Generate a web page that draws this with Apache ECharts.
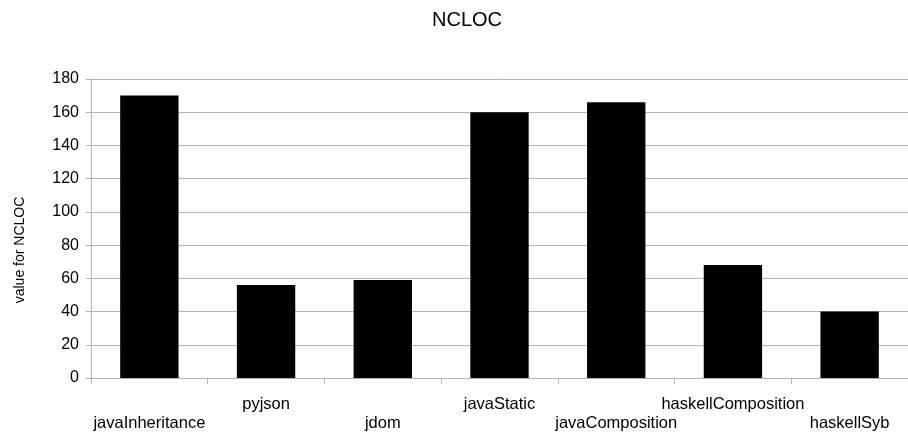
<!DOCTYPE html>
<html>
<head>
<meta charset="utf-8">
<script src="https://cdn.jsdelivr.net/npm/echarts@6/dist/echarts.min.js"></script>
<style>html,body{margin:0;padding:0;background:#fff}#c{width:908px;height:438px}</style>
</head>
<body>
<div id="c"></div>
<script>
var categories = ['javaInheritance', 'pyjson', 'jdom', 'javaStatic', 'javaComposition', 'haskellComposition', 'haskellSyb'];
var values = [170, 56, 59, 160, 166, 68, 40];
var yTicks = { min: 0, max: 180, interval: 20 };
var titleText = 'NCLOC';
var yAxisTitle = 'value for NCLOC';

var font = '"Liberation Sans", Arial, sans-serif';
var chart = echarts.init(document.getElementById('c'), null, { renderer: 'canvas' });
chart.setOption({
  animation: false,
  backgroundColor: '#ffffff',
  title: {
    text: titleText,
    left: 432,
    top: 10,
    padding: 0,
    textStyle: { fontFamily: font, fontSize: 20, fontWeight: 'normal', color: '#000' }
  },
  graphic: [{
    type: 'text',
    x: 20,
    y: 250,
    rotation: Math.PI / 2,
    style: {
      text: yAxisTitle,
      font: '14px ' + font,
      fill: '#000',
      align: 'center',
      verticalAlign: 'middle'
    }
  }],
  grid: { left: 91, right: -4, top: 79, bottom: 60, containLabel: false },
  xAxis: {
    type: 'category',
    data: categories,
    boundaryGap: true,
    axisLine: { lineStyle: { color: '#b3b3b3', width: 1 } },
    axisTick: { show: true, length: 6, lineStyle: { color: '#b3b3b3' } },
    axisLabel: {
      interval: 0,
      hideOverlap: false,
      margin: 17,
      fontFamily: font,
      fontSize: 16.5,
      lineHeight: 19,
      color: '#000',
      formatter: function (v, i) { return i % 2 === 0 ? '\n' + v : v; }
    },
    splitLine: { show: false }
  },
  yAxis: {
    type: 'value',
    min: yTicks.min,
    max: yTicks.max,
    interval: yTicks.interval,
    axisLine: { show: true, lineStyle: { color: '#b3b3b3', width: 1 } },
    axisTick: { show: true, length: 5, lineStyle: { color: '#b3b3b3' } },
    axisLabel: { margin: 12, fontFamily: font, fontSize: 16, color: '#000' },
    splitLine: { show: true, lineStyle: { color: '#b3b3b3', width: 1 } }
  },
  series: [{
    type: 'bar',
    data: values,
    barWidth: '50%',
    itemStyle: { color: '#000000' }
  }]
});
</script>
</body>
</html>
